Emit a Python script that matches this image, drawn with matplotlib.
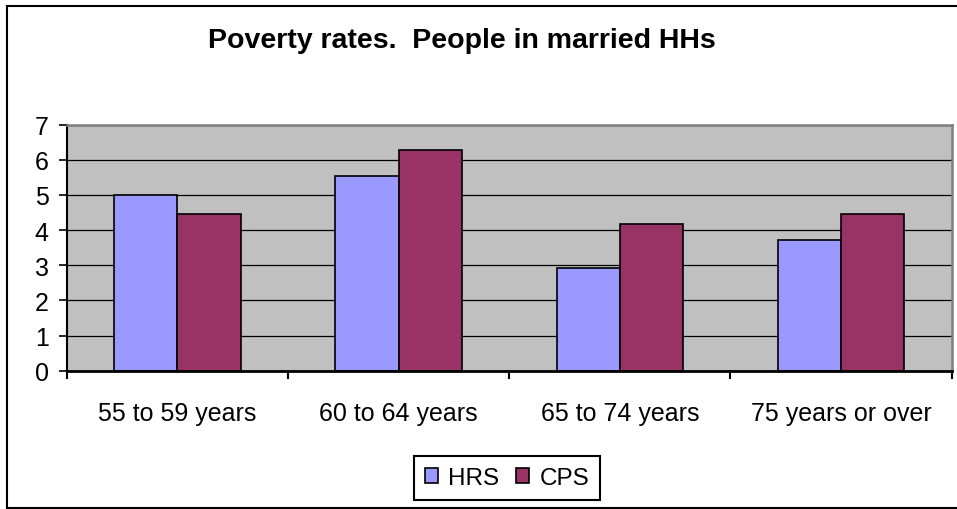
import matplotlib
matplotlib.use("Agg")
import matplotlib.pyplot as plt
from matplotlib.lines import Line2D
from matplotlib.patches import Patch
import numpy as np

categories = ["55 to 59 years", "60 to 64 years", "65 to 74 years", "75 years or over"]
hrs = [5.0, 5.55, 2.93, 3.73]
cps = [4.47, 6.29, 4.18, 4.47]
series_names = ["HRS", "CPS"]
yticks = [0, 1, 2, 3, 4, 5, 6, 7]

HRS_COLOR = "#9999FF"
CPS_COLOR = "#993366"

plt.rcParams['font.family'] = ['Liberation Sans', 'DejaVu Sans']

W, H = 957, 510
fig = plt.figure(figsize=(W / 100, H / 100), dpi=100)
fig.patch.set_facecolor("white")

ax = fig.add_axes([66.7 / W, 1 - 371.7 / H, (951.7 - 66.7) / W, (371.7 - 125.7) / H])
ax.set_facecolor("#C0C0C0")

x = np.arange(len(categories))
w = 1 / 3.5
ax.bar(x - w / 2, hrs, width=w, color=HRS_COLOR, edgecolor="black", linewidth=1.2, zorder=3)
ax.bar(x + w / 2, cps, width=w, color=CPS_COLOR, edgecolor="black", linewidth=1.2, zorder=3)

ax.set_xlim(-0.5, len(categories) - 0.5)
ax.set_ylim(0, 7)
ax.set_yticks(yticks)
ax.set_yticklabels([str(v) for v in yticks], fontsize=18)
ax.yaxis.grid(True, color="black", linewidth=0.9, zorder=1)
ax.set_axisbelow(True)

ax.set_xticks(x)
ax.set_xticklabels(categories, fontsize=18)
ax.set_xticks(np.arange(len(categories) + 1) - 0.5, minor=True)
ax.tick_params(axis='x', which='major', length=0, pad=22)
ax.tick_params(axis='x', which='minor', length=6, width=1.5, direction='out', color='black')
ax.tick_params(axis='y', length=6, width=1.2, direction='out', pad=7, color='black')

for side in ["top", "right"]:
    ax.spines[side].set_color("#808080")
    ax.spines[side].set_linewidth(1.8)
ax.spines["left"].set_color("black")
ax.spines["left"].set_linewidth(1.5)
ax.spines["bottom"].set_color("black")
ax.spines["bottom"].set_linewidth(2.0)
ax.spines["bottom"].set_zorder(4)

fig.text(461.5 / W, 1 - 48.3 / H, "Poverty rates.  People in married HHs",
         ha="center", va="baseline", fontsize=20.5, fontweight="bold")

handles = [Patch(facecolor=HRS_COLOR, edgecolor="black", linewidth=1.2),
           Patch(facecolor=CPS_COLOR, edgecolor="black", linewidth=1.2)]
leg = fig.legend(handles, series_names, loc="center", bbox_to_anchor=(507 / W, 1 - 479 / H),
                 ncol=2, fontsize=17.5, frameon=True, fancybox=False, edgecolor="black",
                 framealpha=1, handlelength=0.55, handleheight=0.55, handletextpad=0.42,
                 columnspacing=0.68, borderpad=0.45, borderaxespad=0)
leg.get_frame().set_linewidth(1.5)

# outer frame
lw = 1.5
fig.add_artist(Line2D([7.5 / W, 7.5 / W], [1 - 6.5 / H, 1 - 508.5 / H], color="black", linewidth=lw, transform=fig.transFigure))
fig.add_artist(Line2D([7.5 / W, 1.0], [1 - 6.5 / H, 1 - 6.5 / H], color="black", linewidth=lw, transform=fig.transFigure))
fig.add_artist(Line2D([7.5 / W, 1.0], [1 - 508.5 / H, 1 - 508.5 / H], color="black", linewidth=lw, transform=fig.transFigure))

fig.savefig("out.png", dpi=100)
